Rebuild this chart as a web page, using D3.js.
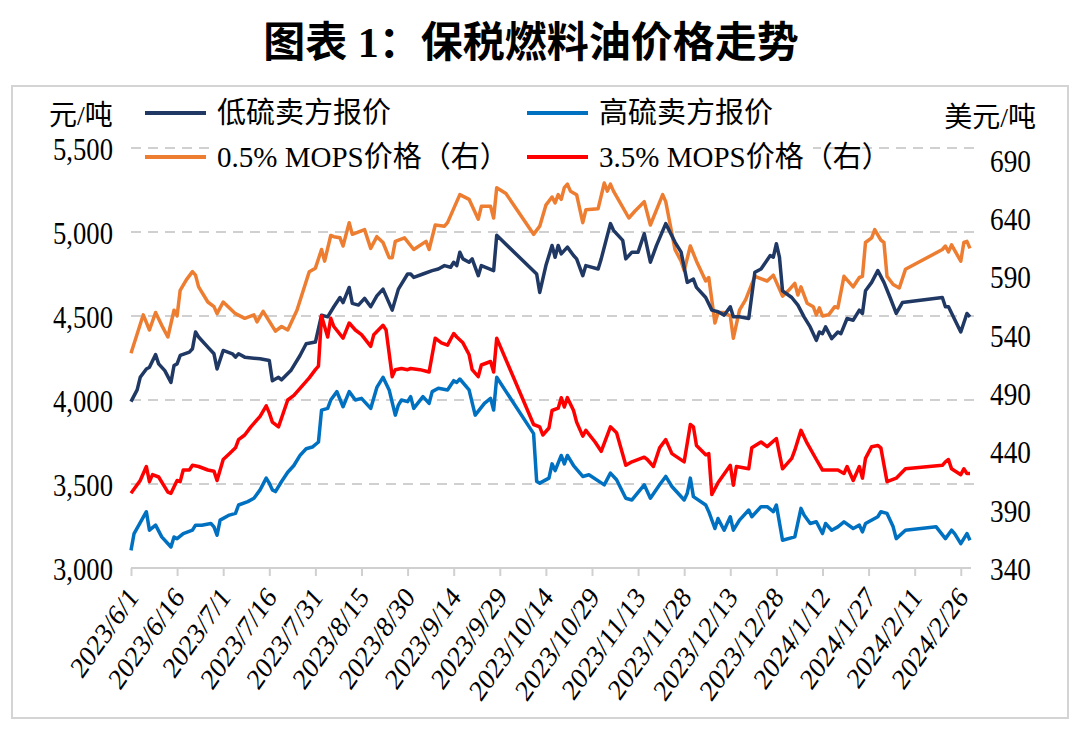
<!DOCTYPE html>
<html><head><meta charset="utf-8">
<script src="https://cdn.jsdelivr.net/npm/d3@7"></script>
<style>body{margin:0;background:#fff}svg{display:block}</style>
</head><body><svg id="c" width="1080" height="729"></svg>
<script>
const title = "图表 1：保税燃料油价格走势";
const leftUnit = "元/吨";
const rightUnit = "美元/吨";
const leftTicks = [3000,3500,4000,4500,5000,5500];
const rightTicks = [340,390,440,490,540,590,640,690];
const xTickDates = ["2023/6/1","2023/6/16","2023/7/1","2023/7/16","2023/7/31","2023/8/15","2023/8/30","2023/9/14","2023/9/29","2023/10/14","2023/10/29","2023/11/13","2023/11/28","2023/12/13","2023/12/28","2024/1/12","2024/1/27","2024/2/11","2024/2/26"];
const seriesNames = ["低硫卖方报价","高硫卖方报价","0.5% MOPS价格（右）","3.5% MOPS价格（右）"];

const lowSulfurOffer = [["2023/6/1",3990],["2023/6/3",4060],["2023/6/4",4135],["2023/6/6",4185],["2023/6/7",4195],["2023/6/9",4270],["2023/6/10",4215],["2023/6/12",4175],["2023/6/14",4105],["2023/6/15",4205],["2023/6/16",4215],["2023/6/17",4265],["2023/6/20",4285],["2023/6/21",4305],["2023/6/22",4405],["2023/6/23",4375],["2023/6/26",4315],["2023/6/28",4275],["2023/6/29",4185],["2023/7/1",4295],["2023/7/4",4275],["2023/7/5",4255],["2023/7/6",4275],["2023/7/8",4255],["2023/7/13",4245],["2023/7/16",4235],["2023/7/17",4115],["2023/7/19",4135],["2023/7/20",4120],["2023/7/23",4175],["2023/7/26",4265],["2023/7/28",4335],["2023/7/31",4345],["2023/8/2",4505],["2023/8/4",4495],["2023/8/6",4555],["2023/8/8",4610],["2023/8/9",4580],["2023/8/11",4670],["2023/8/12",4575],["2023/8/14",4565],["2023/8/16",4605],["2023/8/18",4555],["2023/8/20",4620],["2023/8/22",4660],["2023/8/25",4535],["2023/8/27",4660],["2023/8/30",4750],["2023/8/31",4750],["2023/9/1",4730],["2023/9/4",4750],["2023/9/7",4770],["2023/9/9",4780],["2023/9/11",4800],["2023/9/13",4790],["2023/9/14",4820],["2023/9/15",4800],["2023/9/16",4880],["2023/9/17",4840],["2023/9/19",4820],["2023/9/20",4840],["2023/9/22",4740],["2023/9/23",4800],["2023/9/27",4770],["2023/9/28",4980],["2023/10/11",4750],["2023/10/12",4640],["2023/10/14",4800],["2023/10/16",4920],["2023/10/17",4850],["2023/10/18",4920],["2023/10/19",4870],["2023/10/21",4910],["2023/10/23",4860],["2023/10/24",4840],["2023/10/26",4740],["2023/10/27",4800],["2023/10/31",4780],["2023/11/1",4840],["2023/11/4",5050],["2023/11/5",5010],["2023/11/8",4950],["2023/11/9",4840],["2023/11/11",4880],["2023/11/13",4880],["2023/11/15",4990],["2023/11/17",4820],["2023/11/19",4920],["2023/11/22",5050],["2023/11/25",4940],["2023/11/27",4880],["2023/11/29",4700],["2023/11/30",4710],["2023/12/1",4720],["2023/12/2",4670],["2023/12/5",4610],["2023/12/7",4535],["2023/12/9",4525],["2023/12/11",4505],["2023/12/13",4555],["2023/12/14",4495],["2023/12/16",4495],["2023/12/19",4485],["2023/12/21",4760],["2023/12/23",4780],["2023/12/26",4860],["2023/12/27",4850],["2023/12/28",4930],["2023/12/29",4850],["2023/12/30",4650],["2024/1/2",4610],["2024/1/4",4565],["2024/1/6",4495],["2024/1/8",4435],["2024/1/10",4355],["2024/1/11",4405],["2024/1/12",4395],["2024/1/13",4435],["2024/1/15",4365],["2024/1/17",4405],["2024/1/18",4395],["2024/1/20",4485],["2024/1/22",4475],["2024/1/24",4535],["2024/1/25",4515],["2024/1/26",4650],["2024/1/28",4700],["2024/1/30",4770],["2024/2/1",4700],["2024/2/3",4610],["2024/2/5",4515],["2024/2/7",4580],["2024/2/20",4610],["2024/2/21",4555],["2024/2/22",4555],["2024/2/26",4405],["2024/2/28",4515],["2024/2/29",4495]];

const highSulfurOffer = [["2023/6/1",3105],["2023/6/2",3205],["2023/6/6",3335],["2023/6/7",3225],["2023/6/9",3255],["2023/6/11",3185],["2023/6/14",3125],["2023/6/15",3185],["2023/6/16",3175],["2023/6/18",3205],["2023/6/21",3225],["2023/6/22",3255],["2023/6/24",3255],["2023/6/27",3265],["2023/6/28",3245],["2023/6/29",3195],["2023/6/30",3285],["2023/7/3",3315],["2023/7/5",3325],["2023/7/6",3375],["2023/7/9",3395],["2023/7/11",3415],["2023/7/13",3465],["2023/7/15",3535],["2023/7/16",3505],["2023/7/17",3465],["2023/7/18",3455],["2023/7/20",3515],["2023/7/22",3570],["2023/7/24",3610],["2023/7/26",3670],["2023/7/28",3710],["2023/7/30",3720],["2023/8/1",3750],["2023/8/2",3940],["2023/8/4",3950],["2023/8/5",4000],["2023/8/7",4050],["2023/8/9",3960],["2023/8/11",4050],["2023/8/13",4000],["2023/8/15",4010],["2023/8/18",3950],["2023/8/20",4075],["2023/8/22",4135],["2023/8/24",4060],["2023/8/26",3910],["2023/8/27",3970],["2023/8/28",4000],["2023/8/30",3990],["2023/8/31",4020],["2023/9/1",3950],["2023/9/4",4020],["2023/9/6",3980],["2023/9/7",4050],["2023/9/9",4070],["2023/9/12",4060],["2023/9/14",4115],["2023/9/15",4105],["2023/9/16",4125],["2023/9/19",4060],["2023/9/21",3910],["2023/9/24",3980],["2023/9/26",4010],["2023/9/27",3940],["2023/9/28",4135],["2023/10/10",3800],["2023/10/11",3515],["2023/10/12",3505],["2023/10/15",3535],["2023/10/16",3620],["2023/10/17",3580],["2023/10/19",3670],["2023/10/20",3620],["2023/10/21",3670],["2023/10/23",3610],["2023/10/26",3545],["2023/10/28",3555],["2023/11/2",3495],["2023/11/4",3565],["2023/11/6",3525],["2023/11/9",3415],["2023/11/11",3405],["2023/11/15",3495],["2023/11/17",3415],["2023/11/20",3495],["2023/11/22",3545],["2023/11/24",3485],["2023/11/28",3405],["2023/11/29",3445],["2023/11/30",3535],["2023/12/1",3425],["2023/12/5",3375],["2023/12/6",3335],["2023/12/8",3235],["2023/12/9",3295],["2023/12/11",3225],["2023/12/13",3305],["2023/12/14",3225],["2023/12/16",3285],["2023/12/19",3345],["2023/12/20",3305],["2023/12/23",3365],["2023/12/25",3365],["2023/12/27",3335],["2023/12/28",3375],["2023/12/30",3165],["2024/1/3",3185],["2024/1/5",3355],["2024/1/6",3315],["2024/1/8",3265],["2024/1/10",3275],["2024/1/12",3205],["2024/1/13",3265],["2024/1/15",3225],["2024/1/17",3245],["2024/1/19",3275],["2024/1/22",3235],["2024/1/24",3255],["2024/1/25",3215],["2024/1/26",3265],["2024/1/30",3305],["2024/1/31",3335],["2024/2/2",3325],["2024/2/4",3245],["2024/2/5",3175],["2024/2/8",3225],["2024/2/18",3245],["2024/2/21",3175],["2024/2/23",3225],["2024/2/24",3205],["2024/2/26",3145],["2024/2/28",3205],["2024/2/29",3165]];

const mops05 = [["2023/6/1",524],["2023/6/5",557],["2023/6/7",544],["2023/6/9",559],["2023/6/11",548],["2023/6/13",538],["2023/6/15",561],["2023/6/16",556],["2023/6/17",578],["2023/6/19",587],["2023/6/21",594],["2023/6/22",591],["2023/6/23",581],["2023/6/26",568],["2023/6/28",564],["2023/6/29",558],["2023/7/1",568],["2023/7/5",558],["2023/7/8",554],["2023/7/11",557],["2023/7/12",551],["2023/7/14",560],["2023/7/18",543],["2023/7/20",547],["2023/7/22",544],["2023/7/25",561],["2023/7/29",594],["2023/7/31",597],["2023/8/2",613],["2023/8/3",603],["2023/8/5",625],["2023/8/6",624],["2023/8/8",623],["2023/8/9",616],["2023/8/11",636],["2023/8/12",626],["2023/8/16",630],["2023/8/18",614],["2023/8/20",624],["2023/8/22",619],["2023/8/24",606],["2023/8/25",606],["2023/8/26",620],["2023/8/29",623],["2023/9/1",613],["2023/9/5",620],["2023/9/6",613],["2023/9/8",634],["2023/9/11",633],["2023/9/12",636],["2023/9/16",660],["2023/9/19",656],["2023/9/22",639],["2023/9/23",650],["2023/9/26",650],["2023/9/27",640],["2023/9/28",666],["2023/10/1",661],["2023/10/10",626],["2023/10/12",633],["2023/10/14",651],["2023/10/16",658],["2023/10/17",653],["2023/10/18",660],["2023/10/19",656],["2023/10/20",666],["2023/10/21",669],["2023/10/22",663],["2023/10/24",660],["2023/10/26",636],["2023/10/27",647],["2023/10/31",648],["2023/11/2",670],["2023/11/3",663],["2023/11/4",669],["2023/11/5",663],["2023/11/10",640],["2023/11/12",646],["2023/11/15",654],["2023/11/17",634],["2023/11/21",660],["2023/11/22",654],["2023/11/25",613],["2023/11/27",603],["2023/11/28",595],["2023/11/30",616],["2023/12/2",603],["2023/12/5",586],["2023/12/6",589],["2023/12/8",550],["2023/12/9",559],["2023/12/11",559],["2023/12/13",556],["2023/12/14",537],["2023/12/16",561],["2023/12/18",570],["2023/12/21",590],["2023/12/25",586],["2023/12/27",591],["2023/12/30",573],["2024/1/1",578],["2024/1/3",584],["2024/1/4",574],["2024/1/5",581],["2024/1/7",567],["2024/1/9",564],["2024/1/10",557],["2024/1/11",563],["2024/1/12",556],["2024/1/14",557],["2024/1/16",564],["2024/1/17",563],["2024/1/19",590],["2024/1/22",581],["2024/1/24",589],["2024/1/25",590],["2024/1/26",619],["2024/1/28",623],["2024/1/29",630],["2024/1/31",621],["2024/2/1",619],["2024/2/2",590],["2024/2/4",583],["2024/2/6",580],["2024/2/8",596],["2024/2/20",613],["2024/2/21",616],["2024/2/22",611],["2024/2/23",617],["2024/2/26",603],["2024/2/27",619],["2024/2/28",620],["2024/2/29",614]];

const mops35 = [["2023/6/1",404],["2023/6/4",415],["2023/6/6",427],["2023/6/7",414],["2023/6/8",420],["2023/6/10",418],["2023/6/13",405],["2023/6/14",404],["2023/6/16",415],["2023/6/17",414],["2023/6/18",424],["2023/6/20",424],["2023/6/21",428],["2023/6/23",427],["2023/6/26",424],["2023/6/28",423],["2023/6/29",415],["2023/7/1",433],["2023/7/3",438],["2023/7/5",443],["2023/7/6",450],["2023/7/8",454],["2023/7/10",461],["2023/7/11",464],["2023/7/13",470],["2023/7/15",479],["2023/7/16",473],["2023/7/17",465],["2023/7/19",461],["2023/7/22",484],["2023/7/24",488],["2023/7/26",494],["2023/7/29",503],["2023/7/31",510],["2023/8/1",513],["2023/8/2",556],["2023/8/4",538],["2023/8/5",554],["2023/8/6",547],["2023/8/9",537],["2023/8/11",550],["2023/8/13",544],["2023/8/15",540],["2023/8/18",530],["2023/8/19",540],["2023/8/22",548],["2023/8/23",544],["2023/8/25",504],["2023/8/26",510],["2023/8/28",511],["2023/8/30",510],["2023/8/31",511],["2023/9/3",510],["2023/9/6",508],["2023/9/8",537],["2023/9/10",533],["2023/9/12",531],["2023/9/14",541],["2023/9/15",538],["2023/9/17",533],["2023/9/19",523],["2023/9/20",510],["2023/9/22",504],["2023/9/23",514],["2023/9/26",517],["2023/9/27",508],["2023/9/28",537],["2023/10/10",463],["2023/10/12",461],["2023/10/13",454],["2023/10/15",460],["2023/10/16",475],["2023/10/18",477],["2023/10/19",486],["2023/10/20",478],["2023/10/21",486],["2023/10/23",475],["2023/10/24",465],["2023/10/26",453],["2023/10/27",458],["2023/10/30",448],["2023/11/1",440],["2023/11/4",461],["2023/11/6",456],["2023/11/9",428],["2023/11/11",431],["2023/11/15",435],["2023/11/16",433],["2023/11/18",427],["2023/11/20",443],["2023/11/22",450],["2023/11/24",438],["2023/11/28",431],["2023/11/30",463],["2023/12/1",461],["2023/12/2",445],["2023/12/5",437],["2023/12/6",438],["2023/12/7",403],["2023/12/9",413],["2023/12/13",428],["2023/12/14",411],["2023/12/15",427],["2023/12/19",425],["2023/12/20",443],["2023/12/23",448],["2023/12/25",444],["2023/12/28",451],["2023/12/30",425],["2024/1/2",434],["2024/1/3",441],["2024/1/5",458],["2024/1/7",447],["2024/1/10",433],["2024/1/12",424],["2024/1/15",424],["2024/1/17",424],["2024/1/19",421],["2024/1/20",427],["2024/1/22",415],["2024/1/24",427],["2024/1/25",417],["2024/1/26",434],["2024/1/28",444],["2024/1/30",445],["2024/1/31",443],["2024/2/2",414],["2024/2/5",417],["2024/2/8",425],["2024/2/20",428],["2024/2/21",431],["2024/2/22",433],["2024/2/23",425],["2024/2/26",420],["2024/2/27",425],["2024/2/28",421],["2024/2/29",421]];

const colors = ["#203864","#0070C0","#ED7D31","#FF0000"];
const parse = d3.timeParse("%Y/%m/%d");
const svg = d3.select("#c");
const serif = "'Liberation Serif','Times New Roman','Noto Sans CJK SC',serif";

// outer frame
svg.append("rect").attr("x",12).attr("y",86).attr("width",1056).attr("height",632)
  .attr("fill","none").attr("stroke","#d4d4d4").attr("stroke-width",2);

// title
svg.append("text").attr("x",531).attr("y",43).attr("text-anchor","middle")
  .attr("dominant-baseline","central").attr("font-family",serif)
  .attr("font-size",42).attr("font-weight","bold").attr("fill","#000").text(title);

const x = d3.scaleTime().domain([parse("2023/6/1"), parse("2024/2/29")]).range([131, 970]);
const yL = d3.scaleLinear().domain([3000,5500]).range([568,148]);
const yR = d3.scaleLinear().domain([340,700]).range([568,148]);

// gridlines
svg.append("g").selectAll("line").data(leftTicks.slice(1)).join("line")
  .attr("x1",131).attr("x2",975).attr("y1",d=>yL(d)).attr("y2",d=>yL(d))
  .attr("stroke","#d0d0d0").attr("stroke-width",2).attr("stroke-dasharray","10,7");

// x axis
const xAxis = svg.append("g").attr("transform","translate(0,568)")
  .call(d3.axisBottom(x).tickValues(xTickDates.map(parse)).tickSize(8).tickSizeOuter(0)
    .tickFormat(d3.timeFormat("%Y/%-m/%-d")));
xAxis.select(".domain").attr("stroke","#d0d0d0").attr("stroke-width",2).attr("d","M131,0H971");
xAxis.selectAll(".tick line").attr("stroke","#d0d0d0").attr("stroke-width",2);
xAxis.selectAll(".tick text").attr("font-family",serif).attr("font-size",30).attr("fill","#000")
  .attr("text-anchor","end").attr("x",0).attr("y",0).attr("dy",0)
  .attr("transform","translate(8,30) scale(0.84,1) rotate(-50)");

// left axis
const lAxis = svg.append("g").attr("transform","translate(131,0)")
  .call(d3.axisLeft(yL).tickValues(leftTicks).tickSize(0).tickFormat(d3.format(",")));
lAxis.select(".domain").remove();
lAxis.selectAll("text").attr("font-family",serif).attr("font-size",31).attr("fill","#000")
  .attr("x",0).attr("dy","0.34em").attr("transform","translate(-18,1) scale(0.86,1)");

// right axis
const rAxis = svg.append("g").attr("transform","translate(971,0)")
  .call(d3.axisRight(yR).tickValues(rightTicks).tickSize(0));
rAxis.select(".domain").remove();
rAxis.selectAll("text").attr("font-family",serif).attr("font-size",31).attr("fill","#000")
  .attr("x",0).attr("dy","0.34em").attr("transform","translate(19,1) scale(0.88,1)");

// units
svg.append("text").attr("x",49).attr("y",115).attr("dominant-baseline","central")
  .attr("font-family",serif).attr("font-size",28).attr("fill","#000").text(leftUnit);
svg.append("text").attr("x",1036).attr("y",117).attr("text-anchor","end").attr("dominant-baseline","central")
  .attr("font-family",serif).attr("font-size",28).attr("fill","#000").text(rightUnit);

// lines
const series = [
  {data: lowSulfurOffer, y: yL, color: colors[0]},
  {data: highSulfurOffer, y: yL, color: colors[1]},
  {data: mops05, y: yR, color: colors[2]},
  {data: mops35, y: yR, color: colors[3]}
];
const drawOrder = [2,0,3,1];
drawOrder.forEach(i => {
  const s = series[i];
  const line = d3.line().x(d=>x(parse(d[0]))).y(d=>s.y(d[1]));
  svg.append("path").datum(s.data).attr("d",line).attr("fill","none")
    .attr("stroke",s.color).attr("stroke-width",3.5).attr("stroke-linejoin","round");
});

// legend
svg.append("rect").attr("x",213).attr("y",139).attr("width",600).attr("height",36).attr("fill","#fff");
const legendPos = [[145,113],[527,113],[145,157],[527,157]];
seriesNames.forEach((name,i) => {
  const [lx,ly] = legendPos[i];
  svg.append("line").attr("x1",lx).attr("x2",lx+61).attr("y1",ly).attr("y2",ly)
    .attr("stroke",colors[i]).attr("stroke-width",4);
  svg.append("text").attr("x",lx+72).attr("y",ly).attr("dominant-baseline","central")
    .attr("font-family",serif).attr("font-size",29).attr("fill","#000").text(name);
});
</script></body></html>
